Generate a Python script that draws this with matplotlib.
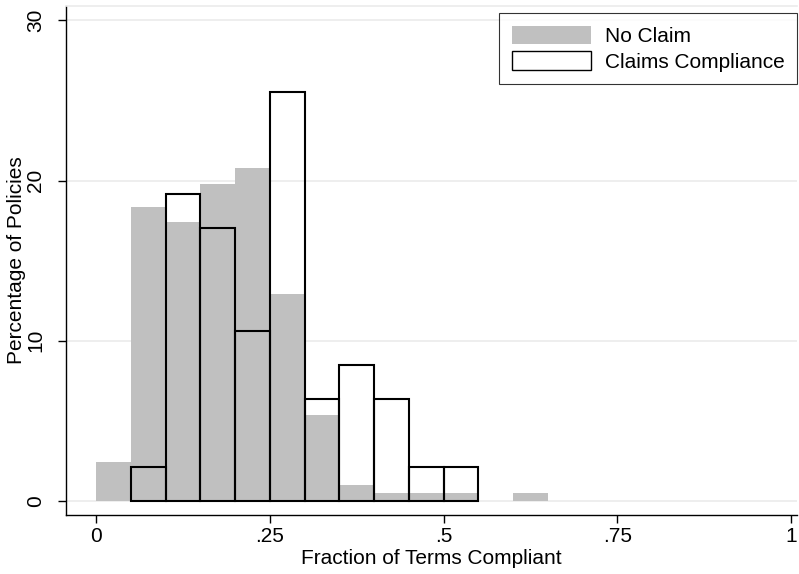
import matplotlib
matplotlib.use("Agg")
import matplotlib.pyplot as plt
from matplotlib.patches import Patch

# bin edges (width .05) and percentages
no_claim_left = [0.00, 0.05, 0.10, 0.15, 0.20, 0.25, 0.30, 0.35, 0.40, 0.45, 0.50, 0.60]
no_claim_pct = [2.42, 18.36, 17.39, 19.81, 20.77, 12.95, 5.35, 0.97, 0.48, 0.48, 0.48, 0.48]

claims_left = [0.05, 0.10, 0.15, 0.20, 0.25, 0.30, 0.35, 0.40, 0.45, 0.50]
claims_pct = [2.13, 19.15, 17.02, 10.64, 25.53, 6.38, 8.51, 6.38, 2.13, 2.13]

x_ticks = [0, 0.25, 0.5, 0.75, 1]
x_ticklabels = ["0", ".25", ".5", ".75", "1"]
y_ticks = [0, 10, 20, 30]

BIN_W = 0.05
GRAY = "#c0c0c0"
FS = 15

plt.rcParams["font.family"] = ["Liberation Sans", "DejaVu Sans"]

fig = plt.figure(figsize=(7.99, 5.74), dpi=100)
ax = fig.add_axes([66 / 799, 59 / 574, 731 / 799, 509 / 574])

ax.bar(no_claim_left, no_claim_pct, width=BIN_W, align="edge",
       color=GRAY, edgecolor="none", zorder=2)
ax.bar(claims_left, claims_pct, width=BIN_W, align="edge",
       facecolor="none", edgecolor="black", linewidth=1.5, zorder=3)

ax.set_xlim(-0.0432, 1.0086)
ax.set_ylim(-0.875, 30.9)

ax.set_xticks(x_ticks)
ax.set_xticklabels(x_ticklabels)
ax.set_yticks(y_ticks)
ax.set_yticklabels([str(v) for v in y_ticks], rotation=90, va="center")
ax.tick_params(axis="both", labelsize=FS, length=6, width=1, color="black")
ax.tick_params(axis="x", pad=3)
ax.tick_params(axis="y", pad=9)

ax.yaxis.grid(True, color="#ebebeb", linewidth=1.2, zorder=0)
ax.set_axisbelow(True)

for side in ["left", "bottom"]:
    ax.spines[side].set_linewidth(1.0)
ax.spines["right"].set_visible(False)
ax.spines["top"].set_color("#ebebeb")
ax.spines["top"].set_linewidth(1.2)

ax.set_xlabel("Fraction of Terms Compliant", fontsize=FS, labelpad=2)
ax.set_ylabel("Percentage of Policies", fontsize=FS, labelpad=0)

handles = [Patch(facecolor=GRAY, edgecolor="none", label="No Claim"),
           Patch(facecolor="white", edgecolor="black", linewidth=1.0,
                 label="Claims Compliance")]
leg = ax.legend(handles=handles, loc="upper right", fontsize=FS,
                frameon=True, fancybox=False, handlelength=3.8, handleheight=1.0,
                borderpad=0.6, labelspacing=0.25, handletextpad=0.67,
                borderaxespad=0.0, bbox_to_anchor=(1.0, 0.986))
leg.get_frame().set_edgecolor("black")
leg.get_frame().set_linewidth(0.8)

fig.savefig("out.png", dpi=100)
